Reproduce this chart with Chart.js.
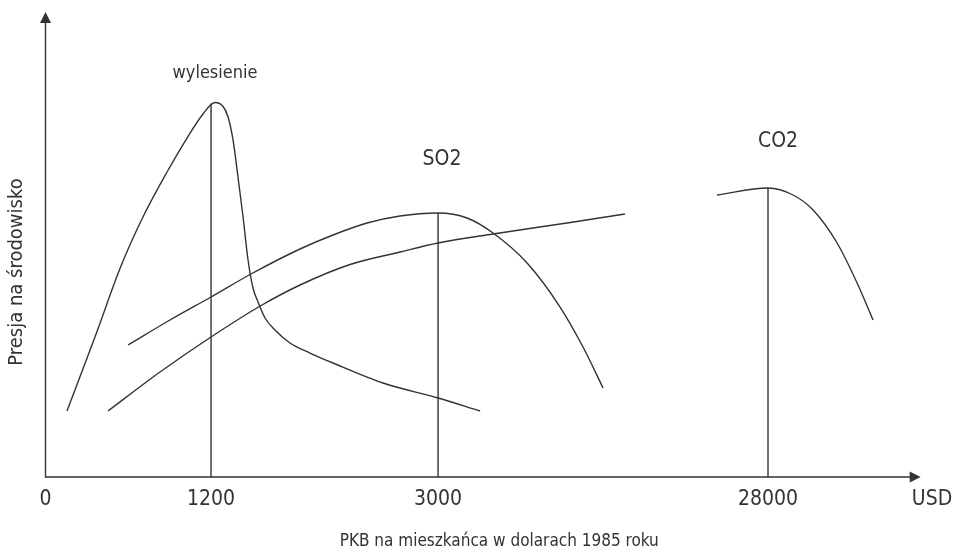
<!DOCTYPE html>
<html>
<head>
<meta charset="utf-8">
<script src="https://cdn.jsdelivr.net/npm/chart.js@4/dist/chart.umd.min.js"></script>
<style>
  html, body { margin: 0; padding: 0; background: #fff; }
  #wrap { width: 954px; height: 553px; }
</style>
</head>
<body>
<div id="wrap"><canvas id="chart"></canvas></div>
<script>
// x axis is schematic (not to scale), so x values are positions along the axis 0..100
const xTickPos = [0, 18.97, 44.99, 82.8, 101.6];
const xTickLabels = ["0", "1200", "3000", "28000", "USD"];

// wylesienie (deforestation)
const wylesienieX = [2.46, 5.67, 8.65, 11.17, 13.93, 16.22, 18.05, 19.43, 20.35, 20.92, 21.49, 22.06, 22.64, 23.21, 23.78, 24.36, 25.16, 26.3, 28.02, 30.31, 32.95, 38.68, 44.99, 49.81];
const wylesienieY = [16.1, 34.15, 51.46, 63.41, 74.39, 82.68, 88.54, 91.34, 90.37, 87.8, 82.2, 73.17, 63.41, 52.93, 46.1, 42.68, 38.78, 35.85, 32.68, 30.24, 27.8, 22.93, 19.27, 16.1];

// SO2
const so2X = [9.46, 14.27, 18.97, 23.55, 29.17, 32.95, 36.85, 40.63, 44.99, 48.31, 51.29, 55.19, 58.97, 61.6, 63.9];
const so2Y = [32.2, 38.29, 43.9, 49.51, 55.61, 59.02, 61.95, 63.66, 64.39, 63.17, 59.51, 52.2, 41.46, 31.71, 21.71];

// rising curve without a peak
const risingX = [7.16, 13.12, 18.97, 24.81, 29.17, 34.9, 40.63, 44.99, 51.29, 59.77, 66.41];
const risingY = [16.1, 25.61, 34.15, 41.95, 46.83, 51.83, 54.88, 57.07, 59.27, 61.95, 64.15];

// CO2
const co2X = [76.96, 82.8, 85.67, 87.97, 90.72, 93.01, 94.84];
const co2Y = [68.78, 70.49, 68.78, 65.12, 57.07, 47.32, 38.29];

// turning points (vertical lines down to the axis)
const peakX = [18.97, 44.99, 82.8];
const peakY = [91.1, 64.39, 70.49];

// curve names
const labelText = ["wylesienie", "SO2", "CO2"];
const labelX = [19.43, 45.44, 83.95];
const labelY = [97.32, 76.1, 80.49];

const yArrowTop = 113.4;
const xArrowEnd = 100.3;

const ink = "#333333";
const fontFamily = "'DejaVu Sans Condensed', 'DejaVu Sans', sans-serif";

function zip(xs, ys) {
    return xs.map((x, i) => ({ x: x, y: ys[i] }));
}

function curve(xs, ys) {
    return {
        data: zip(xs, ys),
        borderColor: ink,
        borderWidth: 1.4,
        pointRadius: 0,
        fill: false,
        cubicInterpolationMode: "monotone"
    };
}

const datasets = [
    curve(wylesienieX, wylesienieY),
    curve(so2X, so2Y),
    curve(risingX, risingY),
    curve(co2X, co2Y)
];
peakX.forEach((x, i) => {
    datasets.push({
        data: [{ x: x, y: 0 }, { x: x, y: peakY[i] }],
        borderColor: ink,
        borderWidth: 1.4,
        pointRadius: 0,
        fill: false,
        tension: 0
    });
});

const axesAndLabels = {
    id: "axesAndLabels",
    afterDraw(chart) {
        const ctx = chart.ctx;
        const xs = chart.scales.x;
        const ys = chart.scales.y;
        const x0 = xs.getPixelForValue(0);
        const y0 = ys.getPixelForValue(0);
        const yTop = ys.getPixelForValue(yArrowTop);
        const xEnd = xs.getPixelForValue(xArrowEnd);
        ctx.save();
        ctx.strokeStyle = ink;
        ctx.fillStyle = ink;
        ctx.lineWidth = 1.4;
        ctx.beginPath();
        ctx.moveTo(x0, yTop + 8);
        ctx.lineTo(x0, y0);
        ctx.lineTo(xEnd - 8, y0);
        ctx.stroke();
        // arrow heads
        ctx.beginPath();
        ctx.moveTo(x0, yTop);
        ctx.lineTo(x0 - 5.5, yTop + 11);
        ctx.lineTo(x0 + 5.5, yTop + 11);
        ctx.closePath();
        ctx.fill();
        ctx.beginPath();
        ctx.moveTo(xEnd, y0);
        ctx.lineTo(xEnd - 11, y0 - 5.5);
        ctx.lineTo(xEnd - 11, y0 + 5.5);
        ctx.closePath();
        ctx.fill();

        ctx.textAlign = "center";
        ctx.textBaseline = "alphabetic";
        labelText.forEach((t, i) => {
            ctx.font = (i === 0 ? 18 : 21) + "px " + fontFamily;
            ctx.fillText(t, xs.getPixelForValue(labelX[i]), ys.getPixelForValue(labelY[i]));
        });
        ctx.restore();
    }
};

new Chart(document.getElementById("chart"), {
    type: "line",
    data: { datasets: datasets },
    options: {
        responsive: true,
        maintainAspectRatio: false,
        animation: false,
        layout: { padding: { top: 67, left: 0, right: 1, bottom: 0 } },
        plugins: {
            legend: { display: false },
            tooltip: { enabled: false }
        },
        scales: {
            x: {
                type: "linear",
                min: 0,
                max: 104,
                grid: { display: false, drawTicks: false },
                border: { display: false },
                afterBuildTicks: scale => {
                    scale.ticks = xTickPos.map(v => ({ value: v }));
                },
                afterFit: scale => {
                    scale.height = 76;
                    scale.paddingLeft = 0;
                    scale.paddingRight = 0;
                },
                ticks: {
                    autoSkip: false,
                    maxRotation: 0,
                    padding: 10,
                    color: ink,
                    font: { family: fontFamily, size: 21 },
                    callback: (v, i) => xTickLabels[i]
                },
                title: {
                    display: true,
                    text: "PKB na mieszkańca w dolarach 1985 roku",
                    color: ink,
                    font: { family: fontFamily, size: 17, lineHeight: 1 },
                    padding: { top: 0, bottom: 3 }
                }
            },
            y: {
                type: "linear",
                min: 0,
                max: 100,
                grid: { display: false, drawTicks: false },
                border: { display: false },
                ticks: { display: false },
                afterFit: scale => { scale.width = 45.5; },
                title: {
                    display: true,
                    text: "Presja na środowisko",
                    color: ink,
                    font: { family: fontFamily, size: 20, lineHeight: 1 },
                    padding: { top: 7, bottom: 0 }
                }
            }
        }
    },
    plugins: [axesAndLabels]
});
</script>
</body>
</html>
